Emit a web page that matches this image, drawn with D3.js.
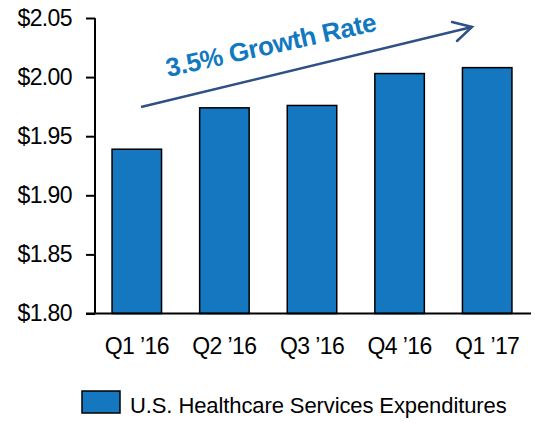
<!DOCTYPE html>
<html>
<head>
<meta charset="utf-8">
<script src="https://cdn.jsdelivr.net/npm/d3@7"></script>
<style>
  body { margin: 0; background: #fff; }
  svg text { font-family: "Liberation Sans", Arial, sans-serif; }
</style>
</head>
<body>
<div id="chart"></div>
<script>
// data
var quarters = ["Q1 \u201916", "Q2 \u201916", "Q3 \u201916", "Q4 \u201916", "Q1 \u201917"];
var expenditures = [1.939, 1.974, 1.976, 2.003, 2.008];
var yTicks = [1.80, 1.85, 1.90, 1.95, 2.00, 2.05];
var seriesName = "U.S. Healthcare Services Expenditures";
var growthLabel = "3.5% Growth Rate";

var width = 535, height = 423;
var barColor = "#1577bf";

var svg = d3.select("#chart").append("svg")
    .attr("width", width)
    .attr("height", height);

// scales
var y = d3.scaleLinear()
    .domain([1.80, 2.05])
    .range([313.5, 18]);

var x = d3.scaleBand()
    .domain(quarters)
    .range([93, 531])
    .paddingInner(0.435)
    .paddingOuter(0.2175);

// bars
svg.selectAll(".bar")
    .data(expenditures)
    .enter().append("rect")
    .attr("class", "bar")
    .attr("x", function(d, i){ return x(quarters[i]); })
    .attr("y", function(d){ return y(d); })
    .attr("width", x.bandwidth())
    .attr("height", function(d){ return y(1.80) - y(d); })
    .attr("fill", barColor)
    .attr("stroke", "#000")
    .attr("stroke-width", 1.5);

// y axis
var yAxis = d3.axisLeft(y)
    .tickValues(yTicks)
    .tickSize(9)
    .tickPadding(14)
    .tickFormat(function(d){ return "$" + d3.format(".2f")(d); });

var gy = svg.append("g")
    .attr("transform", "translate(95,0)")
    .call(yAxis);
gy.select(".domain").attr("stroke", "#000").attr("stroke-width", 2)
    .attr("d", "M0," + y(2.05) + "V" + y(1.80));
gy.selectAll(".tick line").attr("stroke", "#000").attr("stroke-width", 2);
gy.selectAll(".tick text")
    .attr("fill", "#000")
    .style("font-size", "23px")
    .style("letter-spacing", "-0.6px");

// x axis
var xAxis = d3.axisBottom(x).tickSize(0).tickPadding(24);
var gx = svg.append("g")
    .attr("transform", "translate(0," + y(1.80) + ")")
    .call(xAxis);
gx.select(".domain").attr("stroke", "#000").attr("stroke-width", 2)
    .attr("d", "M86,0H531");
gx.selectAll(".tick text")
    .attr("fill", "#000")
    .style("font-size", "23px")
    .style("letter-spacing", "-0.6px");

// growth arrow
var arrowStart = [141, 107], arrowEnd = [472, 27];
svg.append("line")
    .attr("x1", arrowStart[0]).attr("y1", arrowStart[1])
    .attr("x2", arrowEnd[0]).attr("y2", arrowEnd[1])
    .attr("stroke", "#2e5085")
    .attr("stroke-width", 2.5);
svg.append("path")
    .attr("d", "M452,22L" + arrowEnd[0] + "," + arrowEnd[1] + "L457,41")
    .attr("fill", "none")
    .attr("stroke", "#2e5085")
    .attr("stroke-width", 2.5)
    .attr("stroke-linecap", "round");

svg.append("text")
    .attr("transform", "translate(168,77) rotate(-12.5)")
    .attr("fill", "#1279c0")
    .style("font-size", "26px")
    .style("font-weight", "bold")
    .style("letter-spacing", "-0.4px")
    .text(growthLabel);

// legend
var legend = svg.append("g").attr("transform", "translate(82,391)");
legend.append("rect")
    .attr("width", 38).attr("height", 22)
    .attr("fill", barColor)
    .attr("stroke", "#000")
    .attr("stroke-width", 1.5);
legend.append("text")
    .attr("x", 48).attr("y", 22)
    .attr("fill", "#000")
    .style("font-size", "22px")
    .style("letter-spacing", "-0.1px")
    .text(seriesName);
</script>
</body>
</html>
